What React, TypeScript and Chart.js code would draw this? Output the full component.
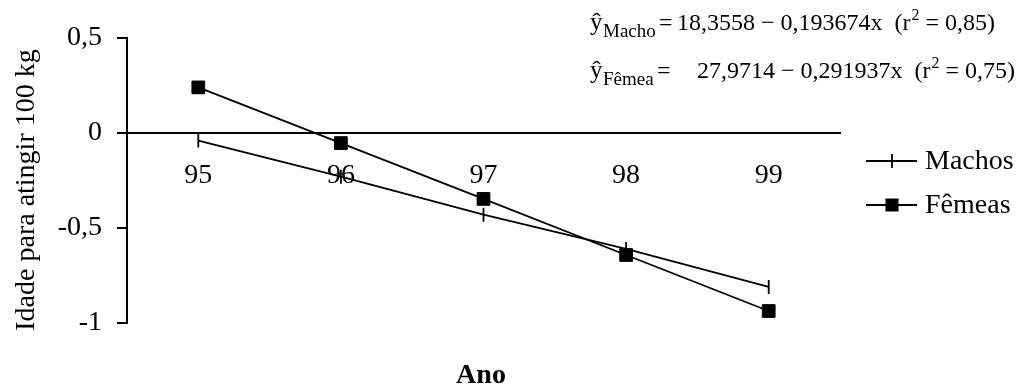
import { useEffect, useRef } from "react";
import { Chart, registerables } from "chart.js";

Chart.register(...registerables);

// ---- data ----
const years = ["95", "96", "97", "98", "99"];
const machos = [-0.04, -0.23, -0.43, -0.61, -0.81];
const femeas = [0.24, -0.053, -0.347, -0.642, -0.937];
const yMin = -1;
const yMax = 0.5;
const yStep = 0.5;
const seriesNames = ["Machos", "Fêmeas"];
const yTitle = "Idade para atingir 100 kg";
const xTitle = "Ano";
const eqSubs = ["Macho", "Fêmea"];
const eqBodies = ["18,3558 − 0,193674x  (r", "27,9714 − 0,291937x  (r"];
const eqTails = [" = 0,85)", " = 0,75)"];

const FONT = "'Liberation Serif', 'Times New Roman', serif";
const W = 1026;
const H = 390;

const decorPlugin = {
  id: "decor",
  afterDraw(chart: any) {
    const ctx = chart.ctx as CanvasRenderingContext2D;
    ctx.save();
    ctx.fillStyle = "#000";
    ctx.strokeStyle = "#000";

    // y title
    ctx.save();
    ctx.translate(27, 190);
    ctx.rotate(-Math.PI / 2);
    ctx.font = `28px ${FONT}`;
    ctx.textAlign = "center";
    ctx.textBaseline = "middle";
    ctx.fillText(yTitle, 0, 0);
    ctx.restore();

    // x title
    ctx.font = `bold 28px ${FONT}`;
    ctx.textAlign = "center";
    ctx.textBaseline = "middle";
    ctx.fillText(xTitle, 481, 376);

    // legend
    const legY = [161, 205];
    ctx.lineWidth = 1.8;
    for (let i = 0; i < 2; i++) {
      const y = legY[i];
      ctx.beginPath();
      ctx.moveTo(866, y);
      ctx.lineTo(917, y);
      ctx.stroke();
      if (i === 0) {
        ctx.beginPath();
        ctx.moveTo(892, y - 7);
        ctx.lineTo(892, y + 7);
        ctx.stroke();
      } else {
        ctx.fillRect(892 - 6.5, y - 6.5, 13, 13);
      }
      ctx.font = `28px ${FONT}`;
      ctx.textAlign = "left";
      ctx.textBaseline = "middle";
      ctx.fillText(seriesNames[i], 925, y + 1);
    }

    // equations
    const base = [30, 78];
    const eqX = [659, 657];
    const bodyX = [677, 697];
    ctx.textAlign = "left";
    ctx.textBaseline = "alphabetic";
    for (let i = 0; i < 2; i++) {
      const b = base[i];
      ctx.font = `25px ${FONT}`;
      ctx.fillText("ŷ", 590, b);
      ctx.font = `19px ${FONT}`;
      ctx.fillText(eqSubs[i], 603, b + 7);
      ctx.font = `24px ${FONT}`;
      ctx.fillText("=", eqX[i], b);
      let x = bodyX[i];
      ctx.fillText(eqBodies[i], x, b);
      x += ctx.measureText(eqBodies[i]).width;
      ctx.font = `16px ${FONT}`;
      ctx.fillText("2", x + 1, b - 10);
      x += ctx.measureText("2").width + 1;
      ctx.font = `24px ${FONT}`;
      ctx.fillText(eqTails[i], x, b);
    }
    ctx.restore();
  },
};

export default function App() {
  const ref = useRef<HTMLCanvasElement | null>(null);

  useEffect(() => {
    if (!ref.current) return;
    const chart = new Chart(ref.current, {
      type: "line",
      data: {
        labels: years,
        datasets: [
          {
            label: seriesNames[0],
            data: machos,
            borderColor: "#000",
            backgroundColor: "#000",
            borderWidth: 1.8,
            pointStyle: "line",
            pointRotation: 90,
            pointRadius: 7,
            pointBorderWidth: 1.8,
            pointBorderColor: "#000",
          },
          {
            label: seriesNames[1],
            data: femeas,
            borderColor: "#000",
            backgroundColor: "#000",
            borderWidth: 1.8,
            pointStyle: "rect",
            pointRadius: 9,
            pointBorderWidth: 1,
            pointBackgroundColor: "#000",
            pointBorderColor: "#000",
          },
        ],
      },
      options: {
        responsive: false,
        animation: false,
        layout: { padding: { left: 0, top: 38, right: W - 840, bottom: H - 323 } },
        plugins: {
          legend: { display: false },
          tooltip: { enabled: false },
        },
        scales: {
          x: {
            type: "category",
            offset: true,
            position: { y: 0 } as any,
            grid: { display: false, drawTicks: false },
            border: { display: true, color: "#000", width: 2 },
            ticks: {
              color: "#000",
              font: { family: FONT, size: 28 },
              padding: 26,
              maxRotation: 0,
            },
            afterFit: (s: any) => {
              s.height = 0;
            },
          },
          y: {
            min: yMin,
            max: yMax,
            grid: {
              display: true,
              drawOnChartArea: false,
              drawTicks: true,
              tickLength: 10,
              color: "#000",
              lineWidth: 2,
            },
            border: { display: true, color: "#000", width: 2 },
            ticks: {
              stepSize: yStep,
              color: "#000",
              font: { family: FONT, size: 28 },
              padding: 15,
              callback: (v: any) => String(v).replace(".", ","),
            },
            afterFit: (s: any) => {
              s.width = 127;
            },
          },
        },
      },
      plugins: [decorPlugin],
    });
    return () => chart.destroy();
  }, []);

  return (
    <div style={{ position: "fixed", left: 0, top: 0, width: W, height: H }}>
      <canvas ref={ref} width={W} height={H} style={{ display: "block" }} />
    </div>
  );
}
